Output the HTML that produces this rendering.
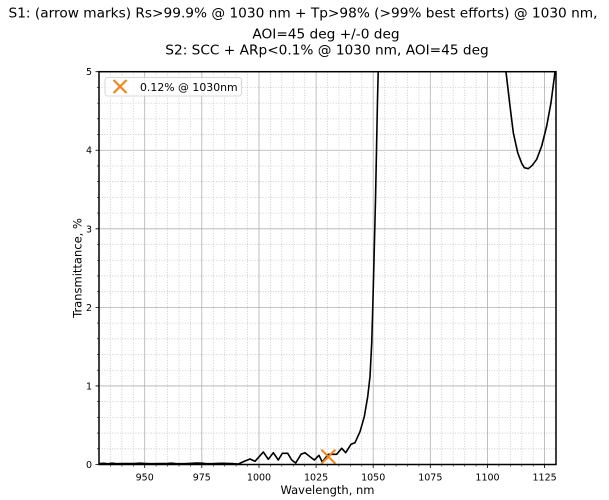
<!DOCTYPE html>
<html>
<head>
<meta charset="utf-8">
<style>
html,body{margin:0;padding:0;background:#fff;}
svg{display:block;}
text{font-family:"DejaVu Sans","Liberation Sans",sans-serif;fill:#000;}
</style>
</head>
<body>
<svg width="609" height="500" viewBox="0 0 609 500" xmlns="http://www.w3.org/2000/svg">
<rect x="0" y="0" width="609" height="500" fill="#fff"/>

<!-- Title -->
<text x="303" y="17.5" font-size="13.7" text-anchor="middle" textLength="589" lengthAdjust="spacingAndGlyphs">S1: (arrow marks) Rs&gt;99.9% @ 1030 nm + Tp&gt;98% (&gt;99% best efforts) @ 1030 nm,</text>
<text x="326" y="38.5" font-size="13.7" text-anchor="middle">AOI=45 deg +/-0 deg</text>
<text x="327" y="54.5" font-size="13.7" text-anchor="middle">S2: SCC + ARp&lt;0.1% @ 1030 nm, AOI=45 deg</text>

<!-- Minor grid -->
<path d="M110.4 71.7V464.5M121.9 71.7V464.5M133.3 71.7V464.5M156.1 71.7V464.5M167.6 71.7V464.5M179 71.7V464.5M190.4 71.7V464.5M213.3 71.7V464.5M224.7 71.7V464.5M236.1 71.7V464.5M247.5 71.7V464.5M270.4 71.7V464.5M281.8 71.7V464.5M293.2 71.7V464.5M304.7 71.7V464.5M327.5 71.7V464.5M338.9 71.7V464.5M350.4 71.7V464.5M361.8 71.7V464.5M384.7 71.7V464.5M396.1 71.7V464.5M407.5 71.7V464.5M418.9 71.7V464.5M441.8 71.7V464.5M453.2 71.7V464.5M464.7 71.7V464.5M476.1 71.7V464.5M498.9 71.7V464.5M510.4 71.7V464.5M521.8 71.7V464.5M533.2 71.7V464.5
M99 448.79H556M99 433.08H556M99 417.36H556M99 401.65H556M99 370.23H556M99 354.52H556M99 338.8H556M99 323.09H556M99 291.67H556M99 275.96H556M99 260.24H556M99 244.53H556M99 213.11H556M99 197.4H556M99 181.68H556M99 165.97H556M99 134.55H556M99 118.84H556M99 103.12H556M99 87.41H556" stroke="#c4c4c4" stroke-width="0.8" stroke-dasharray="1,1.6" fill="none"/>

<!-- Major grid -->
<path d="M144.7 71.7V464.5M201.8 71.7V464.5M259 71.7V464.5M316.1 71.7V464.5M373.2 71.7V464.5M430.3 71.7V464.5M487.5 71.7V464.5M544.6 71.7V464.5
M99 385.94H556M99 307.38H556M99 228.82H556M99 150.26H556" stroke="#b0b0b0" stroke-width="0.8" fill="none"/>

<!-- Curve -->
<defs><clipPath id="ax"><rect x="99" y="71.7" width="457" height="392.8"/></clipPath></defs>
<polyline clip-path="url(#ax)" fill="none" stroke="#000" stroke-width="1.6" stroke-linejoin="round"
points="99,463.5 104,463.3 108,463.8 112,463.2 116,463.7 122,463.6 128,463.5 134,463.6 140,463.2 146,463.5 152,463.7 160,463.5 168,463.4 172,463.2 176,463.7 184,463.7 190,463.4 196,463.1 202,463.2 206,463.7 214,463.6 222,463.3 226,463.4 232,463.6 238.3,464 245,461 250,459 255,461.3 263.3,452 268.3,459.3 273.3,452.7 278.3,460 282.3,453.3 287.7,453.3 291.7,460 295.7,463 301,454.3 305,452.7 310,456.7 314.3,460 319,455.3 322.3,462 328.3,454.3 336.7,454.3 341.7,448.3 345.7,452.7 351,444.3 355,442.7 360,431.7 364.3,416.7 367.7,396.7 370,376.7 371.7,343.3 372.7,310 374,260 375.5,200 376.5,150 377.5,100 378.2,72 379,40"/>
<polyline clip-path="url(#ax)" fill="none" stroke="#000" stroke-width="1.6" stroke-linejoin="round"
points="505,60 506,72 510,106 513.3,132.7 517.7,152.7 521.7,163.3 524.3,167.7 528.3,168.7 532.3,165.3 536.7,159.3 541.7,146 546.7,126 551,102.7 555,72 556.5,60"/>

<!-- Data marker X -->
<g stroke="#ff7f0e" stroke-width="2" fill="none">
<path d="M321.3 449.7L335.3 463.7M335.3 449.7L321.3 463.7"/>
</g>

<!-- Spines -->
<rect x="99" y="71.7" width="457" height="392.8" fill="none" stroke="#000" stroke-width="1.5"/>

<!-- Major ticks -->
<path d="M144.7 464.5v3.5M201.8 464.5v3.5M259 464.5v3.5M316.1 464.5v3.5M373.2 464.5v3.5M430.3 464.5v3.5M487.5 464.5v3.5M544.6 464.5v3.5
M99 464.5h-3.5M99 385.94h-3.5M99 307.38h-3.5M99 228.82h-3.5M99 150.26h-3.5M99 71.7h-3.5" stroke="#000" stroke-width="0.8" fill="none"/>
<!-- Minor ticks -->
<path d="M110.4 464.5v2M121.9 464.5v2M133.3 464.5v2M156.1 464.5v2M167.6 464.5v2M179 464.5v2M190.4 464.5v2M213.3 464.5v2M224.7 464.5v2M236.1 464.5v2M247.5 464.5v2M270.4 464.5v2M281.8 464.5v2M293.2 464.5v2M304.7 464.5v2M327.5 464.5v2M338.9 464.5v2M350.4 464.5v2M361.8 464.5v2M384.7 464.5v2M396.1 464.5v2M407.5 464.5v2M418.9 464.5v2M441.8 464.5v2M453.2 464.5v2M464.7 464.5v2M476.1 464.5v2M498.9 464.5v2M510.4 464.5v2M521.8 464.5v2M533.2 464.5v2
M99 448.79h-2M99 433.08h-2M99 417.36h-2M99 401.65h-2M99 370.23h-2M99 354.52h-2M99 338.8h-2M99 323.09h-2M99 291.67h-2M99 275.96h-2M99 260.24h-2M99 244.53h-2M99 213.11h-2M99 197.4h-2M99 181.68h-2M99 165.97h-2M99 134.55h-2M99 118.84h-2M99 103.12h-2M99 87.41h-2" stroke="#000" stroke-width="0.6" fill="none"/>

<!-- X tick labels -->
<g font-size="9.5" text-anchor="middle">
<text x="144.7" y="480.5">950</text>
<text x="201.8" y="480.5">975</text>
<text x="259" y="480.5">1000</text>
<text x="316.1" y="480.5">1025</text>
<text x="373.2" y="480.5">1050</text>
<text x="430.3" y="480.5">1075</text>
<text x="487.5" y="480.5">1100</text>
<text x="544.6" y="480.5">1125</text>
</g>
<!-- Y tick labels -->
<g font-size="9.5" text-anchor="end">
<text x="92" y="468">0</text>
<text x="92" y="389.4">1</text>
<text x="92" y="310.9">2</text>
<text x="92" y="232.3">3</text>
<text x="92" y="153.7">4</text>
<text x="92" y="75.2">5</text>
</g>

<!-- Axis labels -->
<text x="327.5" y="494" font-size="11.5" text-anchor="middle">Wavelength, nm</text>
<text transform="translate(81.5,268) rotate(-90)" x="0" y="0" font-size="11.5" text-anchor="middle">Transmittance, %</text>

<!-- Legend -->
<rect x="105" y="77.5" width="136.5" height="18.5" rx="2.5" ry="2.5" fill="#fff" fill-opacity="0.8" stroke="#cccccc" stroke-width="0.8"/>
<path d="M113.5 80L126.5 93M126.5 80L113.5 93" stroke="#ff7f0e" stroke-width="2" fill="none"/>
<text x="140" y="90.8" font-size="10.9">0.12% @ 1030nm</text>
</svg>
</body>
</html>
